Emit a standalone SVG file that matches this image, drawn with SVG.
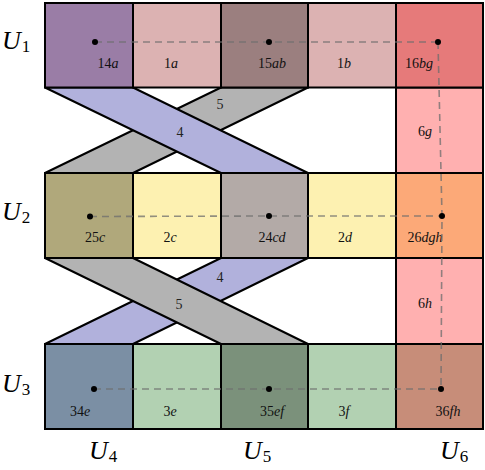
<svg xmlns="http://www.w3.org/2000/svg" width="485" height="470" viewBox="0 0 485 470">
<style>
.cell{stroke:#000;stroke-width:2}
.band{stroke:#000;stroke-width:2;stroke-linejoin:round}
.lbl{font-family:"Liberation Serif",serif;font-size:14px;fill:#111;text-anchor:middle}
.lbl tspan.i{font-style:italic}
.U{font-family:"Liberation Serif",serif;font-style:italic;font-size:26px;fill:#000}
.U tspan{font-style:normal;font-size:17px}
.dash{stroke:#6e6e6e;stroke-opacity:0.75;stroke-width:1.6;stroke-dasharray:7,5;fill:none}
.dot{fill:#000}
.num{font-family:"Liberation Serif",serif;font-size:14px;fill:#222;text-anchor:middle}
</style>
<rect width="485" height="470" fill="#fff"/>

<g id="gap-col6">
<rect class="cell" x="396" y="87.5" width="87" height="85.5" fill="#ffb0b0" stroke-width="1.5"/>
<rect class="cell" x="396" y="258" width="87" height="86" fill="#ffb0b0" stroke-width="1.5"/>
</g>

<g id="bands">
<g id="band5-top"><polygon class="band" points="221,87.5 308,87.5 133,173 45,173" fill="#b3b3b3"/><text class="num" x="220" y="109">5</text></g>
<g id="band4-top"><polygon class="band" points="45,87.5 133,87.5 308,173 221,173" fill="#b1b1dc"/><text class="num" x="180" y="137">4</text></g>
<g id="band4-bot"><polygon class="band" points="221,258 308,258 133,344 45,344" fill="#b1b1dc"/><text class="num" x="220" y="282">4</text></g>
<g id="band5-bot"><polygon class="band" points="45,258 133,258 308,344 221,344" fill="#b3b3b3"/><text class="num" x="179" y="309">5</text></g>
</g>

<g id="row1">
<g id="c14a"><rect class="cell" x="45" y="3" width="88" height="84.5" fill="#9a7da6"/><text class="lbl" x="108" y="68">14<tspan class="i">a</tspan></text></g>
<g id="c1a"><rect class="cell" x="133" y="3" width="88" height="84.5" fill="#dcb2b2"/><text class="lbl" x="171" y="68">1<tspan class="i">a</tspan></text></g>
<g id="c15ab"><rect class="cell" x="221" y="3" width="87" height="84.5" fill="#9b7f7f"/><text class="lbl" x="272" y="68">15<tspan class="i">ab</tspan></text></g>
<g id="c1b"><rect class="cell" x="308" y="3" width="88" height="84.5" fill="#dcb2b2"/><text class="lbl" x="344" y="68">1<tspan class="i">b</tspan></text></g>
<g id="c16bg"><rect class="cell" x="396" y="3" width="87" height="84.5" fill="#e67a7a"/><text class="lbl" x="419" y="68">16<tspan class="i">bg</tspan></text></g>
</g>

<g id="row2">
<g id="c25c"><rect class="cell" x="45" y="173" width="88" height="85" fill="#b0a87b"/><text class="lbl" x="95" y="242">25<tspan class="i">c</tspan></text></g>
<g id="c2c"><rect class="cell" x="133" y="173" width="88" height="85" fill="#fdf1b1"/><text class="lbl" x="170" y="242">2<tspan class="i">c</tspan></text></g>
<g id="c24cd"><rect class="cell" x="221" y="173" width="87" height="85" fill="#b3aaa7"/><text class="lbl" x="272" y="242">24<tspan class="i">cd</tspan></text></g>
<g id="c2d"><rect class="cell" x="308" y="173" width="88" height="85" fill="#fdf1b1"/><text class="lbl" x="345" y="242">2<tspan class="i">d</tspan></text></g>
<g id="c26dgh"><rect class="cell" x="396" y="173" width="87" height="85" fill="#fca978"/><text class="lbl" x="425" y="242">26<tspan class="i">dgh</tspan></text></g>
</g>

<g id="row3">
<g id="c34e"><rect class="cell" x="45" y="344" width="88" height="85" fill="#7b8fa4"/><text class="lbl" x="80" y="416">34<tspan class="i">e</tspan></text></g>
<g id="c3e"><rect class="cell" x="133" y="344" width="88" height="85" fill="#b2d1b2"/><text class="lbl" x="170" y="416">3<tspan class="i">e</tspan></text></g>
<g id="c35ef"><rect class="cell" x="221" y="344" width="87" height="85" fill="#7b917b"/><text class="lbl" x="272" y="416">35<tspan class="i">ef</tspan></text></g>
<g id="c3f"><rect class="cell" x="308" y="344" width="88" height="85" fill="#b2d1b2"/><text class="lbl" x="344" y="416">3<tspan class="i">f</tspan></text></g>
<g id="c36fh"><rect class="cell" x="396" y="344" width="87" height="85" fill="#c78d79"/><text class="lbl" x="448" y="416">36<tspan class="i">fh</tspan></text></g>
</g>

<g id="gap-labels">
<text class="lbl" x="425" y="136">6<tspan class="i">g</tspan></text>
<text class="lbl" x="425" y="308">6<tspan class="i">h</tspan></text>
</g>

<g id="connectors">
<polyline class="dash" points="95,42 269,42 438,42"/>
<polyline class="dash" points="90,216.5 269,216 442,216"/>
<polyline class="dash" points="94,389 269,389 441,389"/>
<polyline class="dash" points="438,42 442,216 441,389"/>
<circle class="dot" cx="95" cy="42" r="3"/>
<circle class="dot" cx="269" cy="42" r="3"/>
<circle class="dot" cx="438" cy="42" r="3"/>
<circle class="dot" cx="90" cy="216.5" r="3"/>
<circle class="dot" cx="269" cy="216" r="3"/>
<circle class="dot" cx="442" cy="216" r="3"/>
<circle class="dot" cx="94" cy="389" r="3"/>
<circle class="dot" cx="269" cy="389" r="3"/>
<circle class="dot" cx="441" cy="389" r="3"/>
</g>

<g id="axis-labels">
<text class="U" x="2" y="49">U<tspan dx="1" dy="3">1</tspan></text>
<text class="U" x="2" y="220">U<tspan dx="1" dy="3">2</tspan></text>
<text class="U" x="2" y="392">U<tspan dx="1" dy="3">3</tspan></text>
<text class="U" x="89" y="459">U<tspan dx="1" dy="3">4</tspan></text>
<text class="U" x="243" y="459">U<tspan dx="1" dy="3">5</tspan></text>
<text class="U" x="440" y="459">U<tspan dx="1" dy="3">6</tspan></text>
</g>
</svg>
